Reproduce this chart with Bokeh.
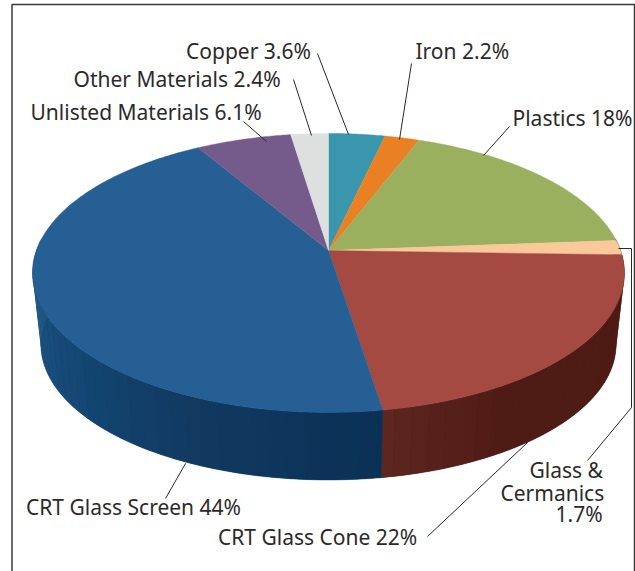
import numpy as np
from bokeh.plotting import figure
from bokeh.models import ColumnDataSource, Range1d
from bokeh.core.properties import value
from bokeh.embed import file_html
from bokeh.resources import INLINE

# data, clockwise from twelve o'clock
materials = ["Copper", "Iron", "Plastics", "Glass & Cermanics", "CRT Glass Cone",
             "CRT Glass Screen", "Unlisted Materials", "Other Materials"]
shares = [3.6, 2.2, 18, 1.7, 22, 44, 6.1, 2.4]
top_colors = ["#3a96ad", "#ea8024", "#9bb05f", "#f9c89b", "#a44a42", "#255f93", "#745b8c", "#dedfdf"]
label_texts = ["Copper 3.6%", "Other Materials 2.4%", "Unlisted Materials 6.1%", "Iron 2.2%",
               "Plastics 18%", "Glass &", "Cermanics", "1.7%",
               "CRT Glass Screen 44%", "CRT Glass Cone 22%"]
label_x = [185.5, 73, 30, 415, 512, 529, 500, 555, 25.5, 217.5]
label_y = [50, 78, 111, 50, 117, 469, 492, 513, 506, 536]
leaders = [
    ([317, 348], [53, 134]),
    ([293, 311], [79, 135]),
    ([243, 266], [121, 141]),
    ([411, 399], [63, 139]),
    ([509, 483], [126, 155]),
    ([618, 631, 631, 587], [248, 248, 407, 460]),
    ([427, 527], [536, 442]),
    ([165, 185], [498, 463]),
]

CX, CY, KP, AX, AY = 328.0, 250.0, 0.161, 292.0, 135.9
SCALE, DROP = 0.972, 72.0


def project(t, bottom=False):
    s, c = np.sin(t), np.cos(t)
    d = 1 + KP * c
    x, y = AX * s / d, -AY * c / d
    if bottom:
        return CX + SCALE * x, CY + SCALE * y + DROP
    return CX + x, CY + y


def rgb(h):
    return np.array([int(h[i:i + 2], 16) for i in (1, 3, 5)], float)


blue_stops = [(171, "#0a3055"), (205, "#123a62"), (225, "#124470"), (262, "#1f5583")]
red_stops = [(90, "#4d1b14"), (150, "#4f1c15"), (171, "#5e2620")]


def side_color(deg):
    stops = blue_stops if deg > 171 else red_stops
    a = [s[0] for s in stops]
    cols = np.array([rgb(s[1]) for s in stops])
    v = [np.interp(deg, a, cols[:, i]) for i in range(3)]
    return "#%02x%02x%02x" % tuple(int(round(k)) for k in v)


edges = np.cumsum([0] + shares) / sum(shares) * 360.0

p = figure(width=635, height=571, output_backend="svg", toolbar_location=None,
           x_range=Range1d(0, 635), y_range=Range1d(571, 0), min_border=0,
           outline_line_color=None, x_axis_location=None, y_axis_location=None,
           background_fill_color="white", border_fill_color="white")
p.grid.visible = False

boundary = edges[5]
for lo, hi, col in [(85.0, boundary, "#4f1c15"), (boundary, 275.0, "#123f6a")]:
    t = np.radians(np.linspace(lo, hi, 120))
    x0, y0 = project(t)
    x1, y1 = project(t[::-1], True)
    p.patch(list(x0) + list(x1), list(y0) + list(y1), fill_color=col, line_color=col, line_width=0.5)

sx, sy, sc = [], [], []
grid = np.unique(np.concatenate([np.arange(85.0, 276.0, 3.0), [boundary]]))
for a, b in zip(grid[:-1], grid[1:]):
    ta, tb = np.radians([a, b])
    xa, ya = project(ta)
    xb, yb = project(tb)
    xc, yc = project(tb, True)
    xd, yd = project(ta, True)
    sx.append([xa, xb, xc, xd])
    sy.append([ya, yb, yc, yd])
    sc.append(side_color((a + b) / 2))
p.patches("x", "y", source=ColumnDataSource(dict(x=sx, y=sy, c=sc)),
          fill_color="c", line_color=None)

tx, ty = [], []
for a, b in zip(edges[:-1], edges[1:]):
    t = np.radians(np.linspace(a, b, max(3, int((b - a) * 2))))
    x, y = project(t)
    tx.append([CX] + list(x))
    ty.append([CY] + list(y))
p.patches("x", "y", source=ColumnDataSource(dict(x=tx, y=ty, c=top_colors)),
          fill_color="c", line_color="c", line_width=0.4)

p.line([11.5, 11.5, 634, 634], [571, 4, 4, 571], line_color="#3a3a3a", line_width=1.5)
p.multi_line([l[0] for l in leaders], [l[1] for l in leaders], line_color="#2b2a29", line_width=1.0)
p.text(label_x, label_y, text=label_texts, text_font=value("Noto Sans"), text_font_size="21px",
       text_color="#2b2a29", text_align="left", text_baseline="alphabetic")

open("out.html", "w").write(file_html(p, INLINE))
